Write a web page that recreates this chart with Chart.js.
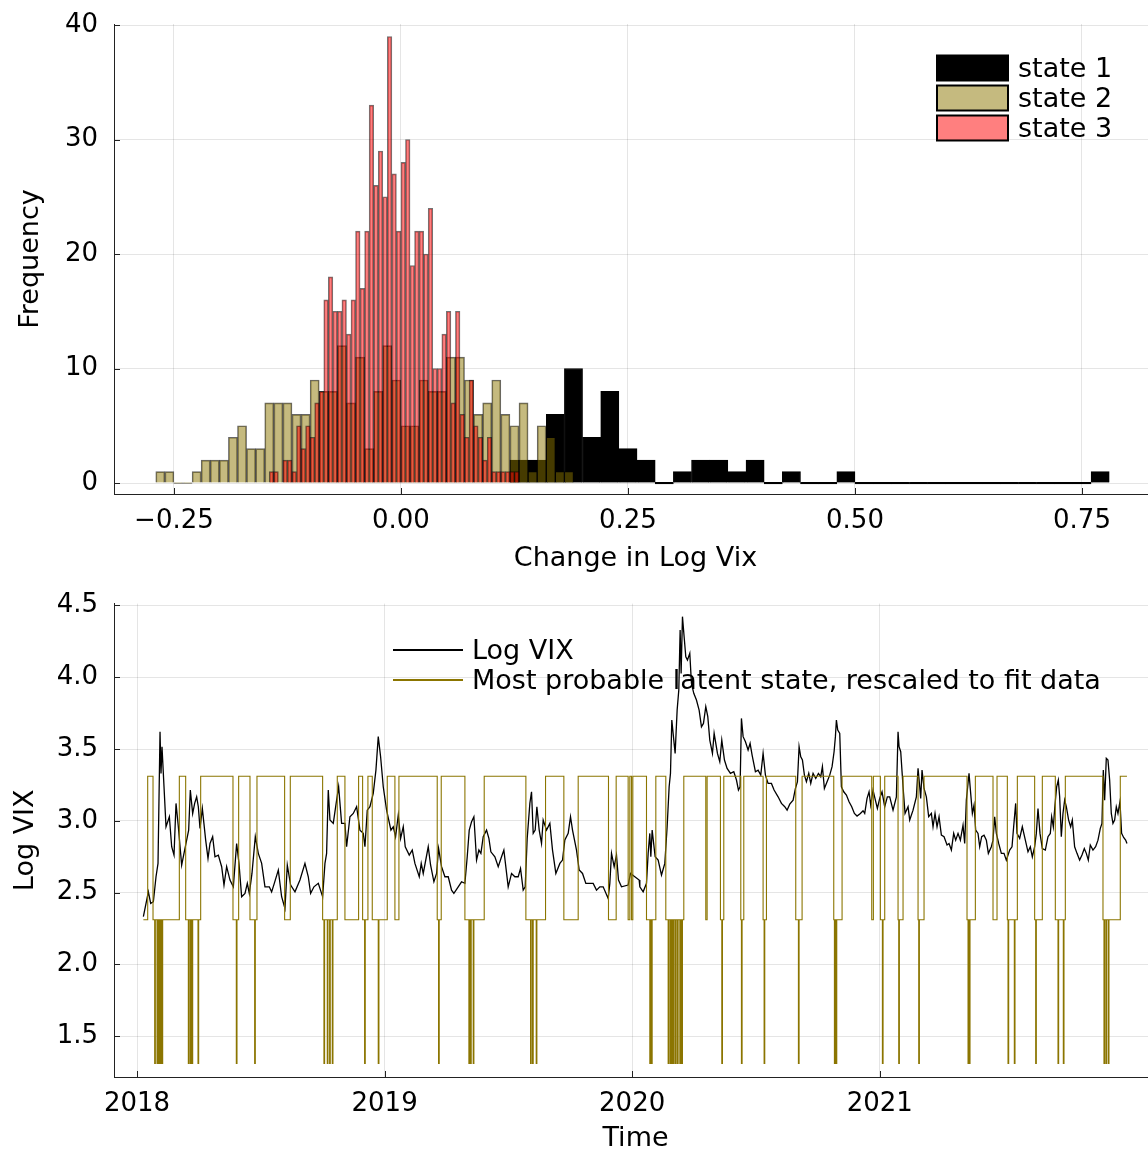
<!DOCTYPE html>
<html>
<head>
<meta charset="utf-8">
<script src="https://cdn.jsdelivr.net/npm/chart.js@4.4.1/dist/chart.umd.min.js"></script>
<style>
  html, body { margin: 0; padding: 0; background: #fff; overflow: hidden; }
  canvas { display: block; }
</style>
</head>
<body>
<canvas id="histChart" width="1158" height="576"></canvas>
<canvas id="vixChart" width="1158" height="577"></canvas>
<script>
// ---- histogram: first bin left edge, bin width, counts ----
const state1Start = 0.12, state1Width = 0.02;
const state1Counts = [2, 2, 6, 10, 4, 8, 3, 2, 0, 1, 2, 2, 1, 2, 0, 1, 0, 0, 1,
  0, 0, 0, 0, 0, 0, 0, 0, 0, 0, 0, 0, 0, 1];

const state2Start = -0.27, state2Width = 0.01;
const state2Counts = [1, 1, 0, 0, 1, 2, 2, 2, 4, 5, 3, 3, 7, 7, 7, 6, 6, 9, 8, 8,
  12, 7, 11, 3, 8, 12, 9, 5, 5, 9, 8, 8, 11, 11, 9, 6, 7, 9, 6, 5, 7, 1, 5, 4, 1, 1];

const state3Start = -0.145, state3Width = 0.005;
const state3Counts = [1, 1, 0, 2, 2, 1, 5, 3, 5, 4, 7, 8, 16, 18, 15, 15, 16, 13, 16, 22,
  17, 22, 33, 26, 29, 25, 39, 27, 22, 28, 30, 19, 22, 22, 20, 24, 10, 10, 13, 15,
  7, 15, 6, 4, 9, 5, 4, 2, 4, 1, 1, 1, 1, 1, 1];

const histLabels = ['state 1', 'state 2', 'state 3'];
const histTickStep = 0.25;

// ---- time series: [decimal year, log VIX] ----
const vixPoints = [
  [2018.0256, 2.332], [2018.0458, 2.505], [2018.0552, 2.424], [2018.0660, 2.436], [2018.0767, 2.610],
  [2018.0848, 2.703], [2018.0929, 3.620], [2018.0969, 3.330], [2018.1009, 3.516], [2018.1090, 3.237],
  [2018.1171, 2.958], [2018.1306, 3.028], [2018.1400, 2.819], [2018.1494, 2.761], [2018.1575, 3.121],
  [2018.1669, 2.958], [2018.1803, 2.691], [2018.1978, 2.842], [2018.2086, 2.935], [2018.2153, 3.214],
  [2018.2248, 3.051], [2018.2328, 3.121], [2018.2409, 3.167], [2018.2476, 3.098], [2018.2544, 2.947],
  [2018.2638, 3.086], [2018.2773, 2.865], [2018.2867, 2.738], [2018.2948, 2.842], [2018.3055, 2.889],
  [2018.3149, 2.749], [2018.3284, 2.761], [2018.3419, 2.680], [2018.3513, 2.552], [2018.3620, 2.680],
  [2018.3755, 2.587], [2018.3890, 2.540], [2018.4024, 2.842], [2018.4118, 2.703], [2018.4226, 2.471],
  [2018.4361, 2.494], [2018.4455, 2.564], [2018.4536, 2.494], [2018.4643, 2.633], [2018.4778, 2.889],
  [2018.4899, 2.773], [2018.5034, 2.703], [2018.5168, 2.540], [2018.5343, 2.540], [2018.5437, 2.505],
  [2018.5545, 2.564], [2018.5707, 2.656], [2018.5841, 2.471], [2018.5976, 2.389], [2018.6070, 2.691],
  [2018.6205, 2.552], [2018.6380, 2.505], [2018.6581, 2.587], [2018.6783, 2.703], [2018.6918, 2.610],
  [2018.7012, 2.494], [2018.7147, 2.540], [2018.7322, 2.564], [2018.7497, 2.471], [2018.7591, 2.703],
  [2018.7658, 2.773], [2018.7725, 3.214], [2018.7793, 3.005], [2018.7927, 2.982], [2018.8062, 3.144],
  [2018.8143, 3.237], [2018.8264, 2.982], [2018.8398, 2.982], [2018.8466, 2.819], [2018.8600, 3.028],
  [2018.8735, 3.051], [2018.8870, 3.098], [2018.9004, 2.935], [2018.9139, 2.912], [2018.9206, 2.819],
  [2018.9300, 3.074], [2018.9408, 3.098], [2018.9542, 3.191], [2018.9650, 3.353], [2018.9744, 3.586],
  [2018.9839, 3.446], [2018.9946, 3.237], [2019.0081, 3.074],
  [2019.0256, 2.935], [2019.0350, 2.958], [2019.0444, 2.889], [2019.0552, 3.040], [2019.0646, 2.877],
  [2019.0754, 2.958], [2019.0834, 2.819], [2019.0996, 2.761], [2019.1117, 2.796], [2019.1225, 2.703],
  [2019.1400, 2.610], [2019.1480, 2.703], [2019.1561, 2.633], [2019.1763, 2.819], [2019.1857, 2.692],
  [2019.1992, 2.575], [2019.2100, 2.633], [2019.2181, 2.807], [2019.2301, 2.680], [2019.2436, 2.610],
  [2019.2571, 2.610], [2019.2705, 2.517], [2019.2799, 2.494], [2019.2934, 2.529], [2019.3109, 2.575],
  [2019.3244, 2.564], [2019.3338, 2.749], [2019.3419, 2.935], [2019.3513, 2.993], [2019.3607, 3.028],
  [2019.3715, 2.726], [2019.3809, 2.796], [2019.3890, 2.773], [2019.3984, 2.889], [2019.4118, 2.935],
  [2019.4213, 2.877], [2019.4293, 2.784], [2019.4455, 2.749], [2019.4590, 2.680], [2019.4724, 2.749],
  [2019.4818, 2.796], [2019.4993, 2.540], [2019.5128, 2.633], [2019.5262, 2.610], [2019.5397, 2.610],
  [2019.5491, 2.668], [2019.5599, 2.517], [2019.5680, 2.540], [2019.5760, 2.877], [2019.5868, 3.121],
  [2019.5935, 3.202], [2019.6003, 2.912], [2019.6083, 2.935], [2019.6151, 3.098], [2019.6245, 2.935],
  [2019.6339, 2.842], [2019.6406, 3.005], [2019.6541, 2.935], [2019.6676, 2.982], [2019.6783, 2.796],
  [2019.6918, 2.633], [2019.7080, 2.703], [2019.7187, 2.726], [2019.7281, 2.866], [2019.7416, 2.912],
  [2019.7510, 3.028], [2019.7591, 2.935], [2019.7752, 2.796], [2019.7860, 2.657], [2019.7995, 2.633],
  [2019.8129, 2.564], [2019.8264, 2.564], [2019.8425, 2.564], [2019.8560, 2.517], [2019.8694, 2.540],
  [2019.8829, 2.540], [2019.9031, 2.459], [2019.9098, 2.564], [2019.9166, 2.773], [2019.9273, 2.680],
  [2019.9367, 2.761], [2019.9448, 2.587], [2019.9569, 2.540], [2019.9838, 2.552], [2019.9933, 2.633],
  [2020.0108, 2.610], [2020.0283, 2.587],
  [2020.0310, 2.540], [2020.0444, 2.505], [2020.0579, 2.564], [2020.0646, 2.773], [2020.0713, 2.912],
  [2020.0754, 2.749], [2020.0808, 2.935], [2020.0929, 2.749], [2020.1050, 2.726], [2020.1185, 2.622],
  [2020.1319, 2.703], [2020.1413, 2.958], [2020.1494, 3.237], [2020.1548, 3.330], [2020.1602, 3.702],
  [2020.1682, 3.562], [2020.1736, 3.469], [2020.1817, 3.771], [2020.1884, 3.911], [2020.1938, 4.329],
  [2020.1978, 4.027], [2020.2032, 4.422], [2020.2099, 4.282], [2020.2167, 4.143], [2020.2234, 4.120],
  [2020.2328, 4.166], [2020.2395, 3.957], [2020.2489, 3.888], [2020.2597, 3.841], [2020.2705, 3.771],
  [2020.2799, 3.655], [2020.2880, 3.678], [2020.2974, 3.795], [2020.3055, 3.725], [2020.3136, 3.562],
  [2020.3243, 3.469], [2020.3311, 3.609], [2020.3445, 3.469], [2020.3539, 3.411], [2020.3620, 3.562],
  [2020.3728, 3.423], [2020.3835, 3.365], [2020.3970, 3.330], [2020.4105, 3.342], [2020.4213, 3.284],
  [2020.4293, 3.214], [2020.4360, 3.237], [2020.4414, 3.713], [2020.4482, 3.586], [2020.4576, 3.551],
  [2020.4683, 3.493], [2020.4764, 3.539], [2020.4845, 3.458], [2020.4979, 3.342], [2020.5087, 3.353],
  [2020.5195, 3.318], [2020.5289, 3.469], [2020.5383, 3.318], [2020.5491, 3.260], [2020.5626, 3.260],
  [2020.5733, 3.214], [2020.5895, 3.167], [2020.6030, 3.121], [2020.6164, 3.098], [2020.6258, 3.074],
  [2020.6366, 3.116], [2020.6501, 3.144], [2020.6595, 3.225], [2020.6676, 3.272], [2020.6743, 3.516],
  [2020.6810, 3.446], [2020.6878, 3.423], [2020.6958, 3.318], [2020.7039, 3.272], [2020.7133, 3.330],
  [2020.7214, 3.260], [2020.7308, 3.330], [2020.7416, 3.295], [2020.7523, 3.330], [2020.7617, 3.307],
  [2020.7685, 3.377], [2020.7765, 3.225], [2020.7873, 3.272], [2020.7981, 3.318], [2020.8075, 3.377],
  [2020.8156, 3.481], [2020.8210, 3.586], [2020.8250, 3.702], [2020.8304, 3.632], [2020.8385, 3.609],
  [2020.8452, 3.237], [2020.8546, 3.202], [2020.8654, 3.179], [2020.8761, 3.133], [2020.8869, 3.098],
  [2020.8977, 3.051], [2020.9084, 3.033], [2020.9219, 3.051], [2020.9326, 3.070], [2020.9394, 3.051],
  [2020.9488, 3.156], [2020.9569, 3.202], [2020.9636, 3.109], [2020.9730, 3.214], [2020.9824, 3.144],
  [2020.9905, 3.086], [2020.9999, 3.156], [2021.0093, 3.202], [2021.0201, 3.098], [2021.0308, 3.167],
  [2021.0404, 3.167], [2021.0538, 3.074], [2021.0673, 3.167], [2021.0740, 3.620], [2021.0781, 3.516],
  [2021.0848, 3.481], [2021.0942, 3.237], [2021.1023, 3.051], [2021.1144, 3.098], [2021.1211, 3.005],
  [2021.1346, 3.074], [2021.1480, 3.167], [2021.1548, 3.365], [2021.1615, 3.237], [2021.1655, 3.156],
  [2021.1709, 3.353], [2021.1790, 3.225], [2021.1884, 3.167], [2021.1978, 3.028], [2021.2086, 3.051],
  [2021.2153, 2.958], [2021.2234, 3.051], [2021.2315, 2.958], [2021.2396, 3.028], [2021.2490, 2.900],
  [2021.2598, 2.889], [2021.2719, 2.831], [2021.2800, 2.842], [2021.2894, 2.796], [2021.2988, 2.912],
  [2021.3069, 2.865], [2021.3163, 2.912], [2021.3257, 2.865], [2021.3365, 2.970], [2021.3432, 2.842],
  [2021.3499, 3.144], [2021.3553, 3.237], [2021.3607, 3.330], [2021.3674, 3.191], [2021.3742, 3.051],
  [2021.3809, 3.109], [2021.3876, 2.935], [2021.3970, 2.912], [2021.4038, 2.819], [2021.4118, 2.889],
  [2021.4213, 2.900], [2021.4307, 2.865], [2021.4388, 2.773], [2021.4509, 2.819], [2021.4576, 2.865],
  [2021.4643, 3.028], [2021.4711, 2.912], [2021.4805, 2.842], [2021.4913, 2.773], [2021.5020, 2.773],
  [2021.5114, 2.726], [2021.5249, 2.796], [2021.5343, 2.819], [2021.5410, 2.958], [2021.5491, 3.121],
  [2021.5545, 2.912], [2021.5653, 2.877], [2021.5760, 2.958], [2021.5882, 2.865], [2021.5989, 2.784],
  [2021.6083, 2.819], [2021.6164, 2.749], [2021.6258, 2.819], [2021.6326, 2.912], [2021.6393, 3.086],
  [2021.6474, 2.912], [2021.6568, 2.807], [2021.6689, 2.796], [2021.6797, 2.889], [2021.6891, 2.912],
  [2021.6945, 3.028], [2021.7012, 2.958], [2021.7079, 3.109], [2021.7147, 3.237], [2021.7214, 3.284],
  [2021.7268, 3.167], [2021.7335, 2.889], [2021.7402, 3.051], [2021.7470, 3.144], [2021.7537, 3.098],
  [2021.7631, 3.005], [2021.7712, 2.958], [2021.7779, 3.005], [2021.7873, 2.819], [2021.7968, 2.773],
  [2021.8075, 2.726], [2021.8170, 2.761], [2021.8264, 2.807], [2021.8345, 2.773], [2021.8425, 2.726],
  [2021.8506, 2.831], [2021.8614, 2.796], [2021.8721, 2.819], [2021.8816, 2.865], [2021.8910, 2.947],
  [2021.8977, 2.982], [2021.9031, 3.353], [2021.9085, 3.144], [2021.9152, 3.435], [2021.9219, 3.423],
  [2021.9287, 3.284], [2021.9354, 3.051], [2021.9421, 2.982], [2021.9489, 3.005], [2021.9556, 3.098],
  [2021.9623, 3.051], [2021.9704, 3.133], [2021.9771, 2.912], [2021.9852, 2.884], [2021.9933, 2.866],
  [2021.9987, 2.842]
];

// most probable latent state: [decimal year where it starts, state]
const statePath = [
  [2018.0256, 2], [2018.0431, 3], [2018.0646, 2], [2018.0713, 1], [2018.0740, 2], [2018.0808, 1],
  [2018.0834, 2], [2018.0875, 1], [2018.0902, 2], [2018.0942, 1], [2018.0969, 2], [2018.1009, 1],
  [2018.1036, 2], [2018.1709, 3], [2018.1965, 2], [2018.2073, 1], [2018.2100, 2], [2018.2153, 1],
  [2018.2180, 2], [2018.2221, 1], [2018.2248, 2], [2018.2463, 1], [2018.2490, 2], [2018.2571, 3],
  [2018.3876, 2], [2018.4011, 1], [2018.4038, 2], [2018.4105, 3], [2018.4563, 2], [2018.4751, 1],
  [2018.4778, 2], [2018.4845, 3], [2018.5962, 2], [2018.6191, 3], [2018.7497, 2], [2018.7550, 1],
  [2018.7577, 2], [2018.7685, 1], [2018.7712, 2], [2018.7779, 1], [2018.7806, 2], [2018.7887, 1],
  [2018.7914, 2], [2018.8089, 3], [2018.8398, 2], [2018.8950, 3], [2018.9112, 2], [2018.9192, 1],
  [2018.9219, 2], [2018.9327, 3], [2018.9502, 2], [2018.9744, 1], [2018.9771, 2], [2019.0108, 3],
  [2019.0417, 2], [2019.0579, 3], [2019.2126, 2], [2019.2180, 1], [2019.2207, 2], [2019.2288, 3],
  [2019.3244, 2], [2019.3405, 1], [2019.3432, 2], [2019.3472, 1], [2019.3499, 2], [2019.3580, 1],
  [2019.3607, 2], [2019.4024, 3], [2019.5707, 2], [2019.5895, 1], [2019.5922, 2], [2019.5976, 1],
  [2019.6003, 2], [2019.6124, 1], [2019.6151, 2], [2019.6501, 3], [2019.7241, 2], [2019.7820, 3],
  [2019.9044, 2], [2019.9354, 3], [2019.9838, 2], [2019.9906, 3], [2019.9973, 2], [2020.0027, 3],
  [2020.0579, 2], [2020.0713, 1], [2020.0740, 2], [2020.0781, 1], [2020.0808, 2], [2020.0956, 3],
  [2020.1359, 2], [2020.1454, 1], [2020.1494, 2], [2020.1548, 1], [2020.1588, 2], [2020.1629, 1],
  [2020.1669, 2], [2020.1723, 1], [2020.1763, 2], [2020.1817, 1], [2020.1857, 2], [2020.1925, 1],
  [2020.1965, 2], [2020.2006, 1], [2020.2032, 2], [2020.2086, 3], [2020.2974, 2], [2020.3028, 3],
  [2020.3566, 2], [2020.3620, 1], [2020.3647, 2], [2020.3701, 3], [2020.4388, 2], [2020.4414, 1],
  [2020.4441, 2], [2020.4509, 3], [2020.5289, 2], [2020.5330, 1], [2020.5356, 2], [2020.5424, 3],
  [2020.6608, 2], [2020.6716, 1], [2020.6743, 2], [2020.6864, 3], [2020.8143, 2], [2020.8170, 1],
  [2020.8197, 2], [2020.8237, 1], [2020.8264, 2], [2020.8479, 3], [2020.9677, 2], [2020.9744, 3],
  [2021.0027, 2], [2021.0108, 1], [2021.0135, 2], [2021.0202, 3], [2021.0740, 2], [2021.0767, 1],
  [2021.0794, 2], [2021.0942, 3], [2021.1548, 2], [2021.1575, 1], [2021.1602, 2], [2021.1790, 3],
  [2021.3526, 2], [2021.3567, 1], [2021.3594, 2], [2021.3620, 1], [2021.3647, 2], [2021.3863, 3],
  [2021.4576, 2], [2021.4738, 3], [2021.5155, 2], [2021.5182, 1], [2021.5209, 2], [2021.5437, 1],
  [2021.5464, 2], [2021.5559, 3], [2021.6258, 2], [2021.6299, 1], [2021.6326, 2], [2021.6568, 3],
  [2021.7093, 2], [2021.7201, 1], [2021.7227, 2], [2021.7416, 1], [2021.7443, 2], [2021.7497, 3],
  [2021.9018, 2], [2021.9058, 1], [2021.9085, 2], [2021.9139, 1], [2021.9166, 2], [2021.9233, 1],
  [2021.9260, 2], [2021.9717, 3], [2021.9987, 3]
];
// state -> rescaled level on the Log VIX axis
const stateLevel = { 1: 1.31, 2: 2.31, 3: 3.31 };
const yearTicks = [2018, 2019, 2020, 2021];
const seriesLabels = ['Log VIX', 'Most probable latent state, rescaled to fit data'];

Chart.defaults.font.family = "'DejaVu Sans', sans-serif";
Chart.defaults.font.size = 26;
Chart.defaults.color = '#000';

const GRID = 'rgba(0,0,0,0.1)';
const AXIS = '#222';
const TITLE_FONT = { size: 27 };

// legend drawn inside the plot area, like the original
const insideLegend = {
  id: 'insideLegend',
  afterDraw(chart, args, opts) {
    const ctx = chart.ctx;
    ctx.save();
    ctx.font = opts.fontSize + 'px ' + Chart.defaults.font.family;
    ctx.textBaseline = 'middle';
    chart.data.datasets.forEach((ds, i) => {
      if (!ds.label) return;
      const cy = opts.top + i * opts.rowHeight;
      if (opts.kind === 'box') {
        ctx.fillStyle = ds.backgroundColor;
        ctx.fillRect(opts.left, cy - opts.boxHeight / 2, opts.swatchWidth, opts.boxHeight);
        ctx.strokeStyle = '#000';
        ctx.lineWidth = 2;
        ctx.strokeRect(opts.left, cy - opts.boxHeight / 2, opts.swatchWidth, opts.boxHeight);
      } else {
        ctx.strokeStyle = ds.borderColor;
        ctx.lineWidth = 2;
        ctx.beginPath();
        ctx.moveTo(opts.left, cy);
        ctx.lineTo(opts.left + opts.swatchWidth, cy);
        ctx.stroke();
      }
      ctx.fillStyle = '#000';
      ctx.fillText(ds.label, opts.left + opts.swatchWidth + opts.gap, cy + opts.textShift);
    });
    ctx.restore();
  }
};

// short tick marks pointing into the plot
const inwardTicks = {
  id: 'inwardTicks',
  afterDatasetsDraw(chart, args, opts) {
    const { ctx, chartArea, scales } = chart;
    ctx.save();
    ctx.strokeStyle = AXIS;
    ctx.lineWidth = 1;
    ctx.beginPath();
    scales.x.ticks.forEach(t => {
      const px = Math.round(scales.x.getPixelForValue(t.value)) + 0.5;
      ctx.moveTo(px, chartArea.bottom);
      ctx.lineTo(px, chartArea.bottom - opts.length);
    });
    scales.y.ticks.forEach(t => {
      const py = Math.round(scales.y.getPixelForValue(t.value)) + 0.5;
      ctx.moveTo(chartArea.left, py);
      ctx.lineTo(chartArea.left + opts.length, py);
    });
    ctx.stroke();
    ctx.restore();
  }
};

// y axes: fixed width, and no extra room asked for the end labels
const fixYAxis = s => { s.width = 114; s.paddingTop = 0; s.paddingBottom = 0; };

const histBars = (start, width, counts) =>
  counts.map((c, i) => ({ x: start + (i + 0.5) * width, y: c }));

const histX = { min: -0.316, max: 0.8326 };
const hiddenX = () => ({ type: 'linear', axis: 'x', display: false, offset: false,
  min: histX.min, max: histX.max, grid: { offset: false } });

new Chart(document.getElementById('histChart'), {
  type: 'bar',
  data: {
    datasets: [
      { label: histLabels[0], data: histBars(state1Start, state1Width, state1Counts), xAxisID: 'x1',
        backgroundColor: '#000', borderColor: '#000', borderWidth: 1, minBarLength: 2, order: 3 },
      { label: histLabels[1], data: histBars(state2Start, state2Width, state2Counts), xAxisID: 'x2',
        backgroundColor: 'rgba(139,117,0,0.5)', borderColor: 'rgba(0,0,0,0.6)', borderWidth: 1,
        minBarLength: 1, order: 2 },
      { label: histLabels[2], data: histBars(state3Start, state3Width, state3Counts), xAxisID: 'x',
        backgroundColor: 'rgba(255,0,0,0.5)', borderColor: 'rgba(0,0,0,0.55)', borderWidth: 1,
        order: 1 }
    ]
  },
  options: {
    responsive: false,
    animation: false,
    devicePixelRatio: 1,
    layout: { padding: { left: 0, top: 24, right: 1, bottom: 0 } },
    datasets: { bar: { barPercentage: 1, categoryPercentage: 1, grouped: false, borderSkipped: 'start' } },
    plugins: {
      legend: { display: false },
      tooltip: { enabled: false },
      insideLegend: { kind: 'box', left: 937, top: 68, rowHeight: 30, swatchWidth: 71,
        boxHeight: 25, gap: 10, fontSize: 27, textShift: 2 },
      inwardTicks: { length: 6 }
    },
    scales: {
      x: {
        type: 'linear', offset: false, min: histX.min, max: histX.max,
        ticks: { stepSize: histTickStep, includeBounds: false, padding: 12, maxRotation: 0,
          callback: v => (v < 0 ? '\u2212' : '') + Math.abs(v).toFixed(2) },
        grid: { color: GRID, drawTicks: false, offset: false },
        border: { color: AXIS, width: 1 },
        title: { display: true, text: 'Change in Log Vix', font: TITLE_FONT, padding: { top: 0, bottom: 1 } },
        afterFit: s => { s.height = 82; }
      },
      x1: hiddenX(),
      x2: hiddenX(),
      y: {
        min: -0.96, max: 40.09,
        ticks: { stepSize: 10, includeBounds: false, padding: 16 },
        grid: { color: GRID, drawTicks: false },
        border: { color: AXIS, width: 1 },
        title: { display: true, text: 'Frequency', font: TITLE_FONT, padding: { top: 15, bottom: 0 } },
        afterFit: fixYAxis
      }
    }
  },
  plugins: [insideLegend, inwardTicks]
});

new Chart(document.getElementById('vixChart'), {
  type: 'line',
  data: {
    datasets: [
      { label: seriesLabels[0], data: vixPoints.map(p => ({ x: p[0], y: p[1] })),
        borderColor: '#000', borderWidth: 1.3, pointRadius: 0, tension: 0, order: 2 },
      { label: seriesLabels[1], data: statePath.map(p => ({ x: p[0], y: stateLevel[p[1]] })),
        borderColor: 'rgb(139,117,0)', borderWidth: 1.1, pointRadius: 0, stepped: 'before', order: 1 }
    ]
  },
  options: {
    responsive: false,
    animation: false,
    devicePixelRatio: 1,
    layout: { padding: { left: 0, top: 27.6, right: 1, bottom: 0 } },
    plugins: {
      legend: { display: false },
      tooltip: { enabled: false },
      insideLegend: { kind: 'line', left: 393, top: 74, rowHeight: 30, swatchWidth: 70,
        gap: 9, fontSize: 27, textShift: 2 },
      inwardTicks: { length: 6 }
    },
    scales: {
      x: {
        type: 'linear', min: 2017.907, max: 2022.12,
        afterBuildTicks: s => { s.ticks = yearTicks.map(v => ({ value: v })); },
        ticks: { padding: 12, maxRotation: 0, callback: v => String(v) },
        grid: { color: GRID, drawTicks: false },
        border: { color: AXIS, width: 1 },
        title: { display: true, text: 'Time', font: TITLE_FONT, padding: { top: 0, bottom: -2 } },
        afterFit: s => { s.height = 76; }
      },
      y: {
        min: 1.215, max: 4.513,
        ticks: { stepSize: 0.5, includeBounds: false, padding: 16, callback: v => v.toFixed(1) },
        grid: { color: GRID, drawTicks: false },
        border: { color: AXIS, width: 1 },
        title: { display: true, text: 'Log VIX', font: TITLE_FONT, padding: { top: 10, bottom: 0 } },
        afterFit: fixYAxis
      }
    }
  },
  plugins: [insideLegend, inwardTicks]
});
</script>
</body>
</html>
